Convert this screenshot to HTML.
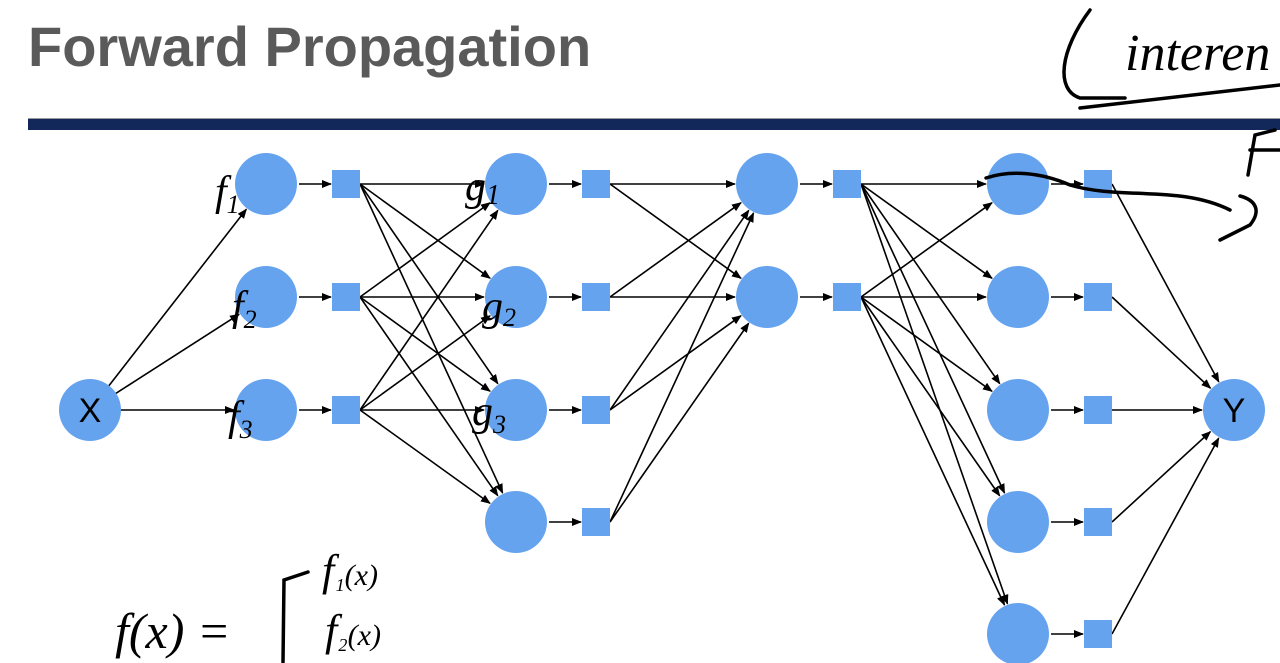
<!DOCTYPE html>
<html><head><meta charset="utf-8"><style>
html,body{margin:0;padding:0;background:#fff;width:1280px;height:663px;overflow:hidden}
svg{display:block}
</style></head><body>
<svg id="s" width="1280" height="663" viewBox="0 0 1280 663" xmlns="http://www.w3.org/2000/svg">
<defs>
<marker id="a" markerWidth="10" markerHeight="8" refX="9" refY="4" orient="auto" markerUnits="userSpaceOnUse">
<path d="M0,0 L10,4 L0,8 z" fill="#000"/></marker>
</defs>
<text x="28" y="66" font-family="Liberation Sans, sans-serif" font-weight="bold" font-size="56" fill="#5a5a5a">Forward Propagation</text>
<rect x="28" y="118" width="1252" height="12" fill="#13285a"/>
<line x1="28" y1="118.5" x2="1280" y2="118.5" stroke="#999" stroke-width="1"/>
<g id="edges" stroke="#000" stroke-width="1.6" fill="none"></g>
<g id="nodes"></g>
<g fill="none" stroke="#000" stroke-width="3.5" stroke-linecap="round">
<path d="M1090,10 C1060,50 1055,90 1080,98 L1125,98"/>
<path d="M1080,108 L1280,85"/>
<path d="M986,178 C1010,170 1040,172 1070,185 C1120,200 1180,185 1230,210"/>
<path d="M1240,196 C1255,200 1262,210 1250,225 L1220,240"/>
<path d="M1275,130 L1255,135 L1248,175"/>
<path d="M1250,150 L1280,150"/>
<path d="M283,662 L284,580 L308,572"/>
</g>
<g font-family="Liberation Serif, serif" font-style="italic" font-size="42" fill="#000">
<text x="1125" y="70" font-size="52">interen</text>
<text x="215" y="205">f<tspan font-size="26" dy="8">1</tspan></text>
<text x="232" y="320">f<tspan font-size="26" dy="8">2</tspan></text>
<text x="228" y="430">f<tspan font-size="26" dy="8">3</tspan></text>
<text x="465" y="200">g<tspan font-size="28" dy="4">1</tspan></text>
<text x="482" y="320">g<tspan font-size="26" dy="6">2</tspan></text>
<text x="472" y="425">g<tspan font-size="26" dy="8">3</tspan></text>
<text x="115" y="648" font-size="50">f(x) =</text>
<text x="322" y="585" font-size="44">f<tspan font-size="30">₁(x)</tspan></text>
<text x="325" y="645" font-size="44">f<tspan font-size="30">₂(x)</tspan></text>
</g>
</svg>
<script>
var NS="http://www.w3.org/2000/svg";
var E=document.getElementById("edges"),N=document.getElementById("nodes");
var R=31,H=14;
var X=[90,410],Y=[1234,410];
var L1=[[266,184],[266,297],[266,410]];
var L2=[[516,184],[516,297],[516,410],[516,522]];
var L3=[[767,184],[767,297]];
var L4=[[1018,184],[1018,297],[1018,410],[1018,522],[1018,634]];
function sq(c){return [c[0]+80,c[1]];}
function line(x1,y1,x2,y2){var l=document.createElementNS(NS,"line");l.setAttribute("x1",x1);l.setAttribute("y1",y1);l.setAttribute("x2",x2);l.setAttribute("y2",y2);l.setAttribute("marker-end","url(#a)");E.appendChild(l);}
function toCircle(p,c){var dx=c[0]-p[0],dy=c[1]-p[1],d=Math.sqrt(dx*dx+dy*dy);line(p[0],p[1],c[0]-dx/d*(R+1),c[1]-dy/d*(R+1));}
function circ(c,t){var e=document.createElementNS(NS,"circle");e.setAttribute("cx",c[0]);e.setAttribute("cy",c[1]);e.setAttribute("r",R);e.setAttribute("fill","#66a3ef");N.appendChild(e);
if(t){var x=document.createElementNS(NS,"text");x.setAttribute("x",c[0]);x.setAttribute("y",c[1]+12);x.setAttribute("text-anchor","middle");x.setAttribute("font-family","Liberation Sans, sans-serif");x.setAttribute("font-size","34");x.textContent=t;N.appendChild(x);}}
function box(c){var e=document.createElementNS(NS,"rect");e.setAttribute("x",c[0]-H);e.setAttribute("y",c[1]-H);e.setAttribute("width",2*H);e.setAttribute("height",2*H);e.setAttribute("fill","#66a3ef");N.appendChild(e);}
L1.forEach(function(c){toCircle([X[0]+R*0.9*(c[0]-X[0])/Math.hypot(c[0]-X[0],c[1]-X[1]),X[1]+R*0.9*(c[1]-X[1])/Math.hypot(c[0]-X[0],c[1]-X[1])],c);});
function layer(A,B){A.forEach(function(c){var s=sq(c);line(c[0]+R+2,c[1],s[0]-H-1,s[1]);B.forEach(function(b){toCircle([s[0]+H,s[1]],b);});});}
layer(L1,L2);layer(L2,L3);layer(L3,L4);
L4.forEach(function(c){var s=sq(c);line(c[0]+R+2,c[1],s[0]-H-1,s[1]);toCircle([s[0]+H,s[1]],Y);});
circ(X,"X");circ(Y,"Y");
[L1,L2,L3,L4].forEach(function(L){L.forEach(function(c){circ(c);box(sq(c));});});
</script>
</body></html>
